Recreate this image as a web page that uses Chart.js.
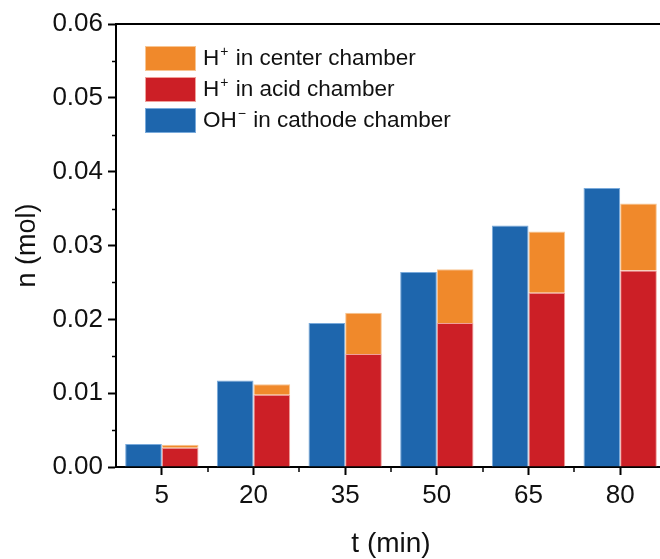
<!DOCTYPE html>
<html>
<head>
<meta charset="utf-8">
<script src="https://cdn.jsdelivr.net/npm/chart.js@4.4.0/dist/chart.umd.min.js"></script>
<style>
html, body { margin: 0; padding: 0; background: #fff; overflow: hidden; }
#wrap { width: 666px; height: 559px; }
</style>
</head>
<body>
<div id="wrap"><canvas id="grafico"></canvas></div>
<script>
// tempo (min) e quantidade (mol)
var tempos = ['5', '20', '35', '50', '65', '80'];
var ohCatodo = [0.0031, 0.0117, 0.0195, 0.0264, 0.0327, 0.0378];
var hAcido = [0.0026, 0.0098, 0.0153, 0.0195, 0.0236, 0.0266];
var hCentro = [0.0004, 0.0014, 0.0056, 0.0073, 0.0083, 0.0091];

var fonte = "'Liberation Sans', Arial, sans-serif";

// escreve texto com ⁺ / ⁻ como sobrescrito menor
function textoSobrescrito(c, txt, x, y, tam) {
    var buf = '';
    function solta() {
        if (!buf) return;
        c.font = tam + 'px ' + fonte;
        c.fillText(buf, x, y);
        x += c.measureText(buf).width;
        buf = '';
    }
    for (var i = 0; i < txt.length; i++) {
        var ch = txt[i];
        if (ch === '\u207A' || ch === '\u207B') {
            solta();
            var s = ch === '\u207A' ? '+' : '\u2212';
            c.font = Math.round(tam * 0.62) + 'px ' + fonte;
            c.fillText(s, x + 1, y - tam * 0.3);
            x += c.measureText(s).width + 2;
        } else {
            buf += ch;
        }
    }
    solta();
}

var extras = {
    id: 'extras',
    afterDraw: function(chart) {
        var c = chart.ctx, a = chart.chartArea;
        var sx = chart.scales.x, sy = chart.scales.y;
        c.save();
        c.strokeStyle = '#000';
        c.lineWidth = 2;
        // linha de cima
        c.beginPath();
        c.moveTo(a.left - 1, a.top);
        c.lineTo(a.right, a.top);
        c.stroke();
        // ticks menores
        c.lineWidth = 1.5;
        for (var v = 0.005; v < 0.06; v += 0.01) {
            var py = Math.round(sy.getPixelForValue(v)) + 0.5;
            c.beginPath(); c.moveTo(a.left - 4, py); c.lineTo(a.left + 1, py); c.stroke();
        }
        for (var i = 0; i < tempos.length - 1; i++) {
            var px = Math.round((sx.getPixelForValue(i) + sx.getPixelForValue(i + 1)) / 2);
            c.beginPath(); c.moveTo(px, a.bottom); c.lineTo(px, a.bottom + 5); c.stroke();
        }
        // legenda
        var ds = chart.data.datasets.slice().reverse();
        c.textBaseline = 'middle';
        c.textAlign = 'left';
        for (var k = 0; k < ds.length; k++) {
            var by = 46 + k * 31;
            c.fillStyle = ds[k].borderColor;
            c.fillRect(145, by, 51, 25);
            c.fillStyle = ds[k].backgroundColor;
            c.fillRect(146, by + 1, 49, 23);
            c.fillStyle = '#111';
            textoSobrescrito(c, ds[k].label, 203, by + 13, 22.5);
        }
        c.restore();
    }
};

var ctx = document.getElementById('grafico').getContext('2d');
var chart = new Chart(ctx, {
    type: 'bar',
    data: {
        labels: tempos,
        datasets: [{
            label: 'OH\u207B in cathode chamber',
            data: ohCatodo,
            stack: 'oh',
            backgroundColor: '#1e66ad',
            borderColor: '#79aadb',
            borderWidth: 1
        }, {
            label: 'H\u207A in acid chamber',
            data: hAcido,
            stack: 'h',
            backgroundColor: '#cc1f26',
            borderColor: '#f0a09a',
            borderWidth: 1
        }, {
            label: 'H\u207A in center chamber',
            data: hCentro,
            stack: 'h',
            backgroundColor: '#f0892b',
            borderColor: '#f8c592',
            borderWidth: 1
        }]
    },
    options: {
        responsive: true,
        maintainAspectRatio: false,
        animation: false,
        layout: { padding: { top: 24, right: 0, left: 0, bottom: 0 } },
        datasets: { bar: { categoryPercentage: 0.8, barPercentage: 1.0 } },
        plugins: { legend: { display: false }, tooltip: { enabled: false } },
        scales: {
            x: {
                stacked: true,
                offset: true,
                afterFit: function(s) { s.height = 92; },
                grid: { offset: false, drawOnChartArea: false, drawTicks: true, tickLength: 8, tickWidth: 2, tickColor: '#000' },
                border: { color: '#000', width: 2 },
                ticks: { color: '#111', padding: 5, font: { family: fonte, size: 26 } },
                title: { display: true, text: 't (min)', color: '#111', padding: { top: 0, bottom: 1 }, font: { family: fonte, size: 28, lineHeight: 1 } }
            },
            y: {
                stacked: true,
                min: 0,
                max: 0.06,
                afterFit: function(s) { s.width = 116; },
                grid: { drawOnChartArea: false, drawTicks: true, tickLength: 8, tickWidth: 2, tickColor: '#000' },
                border: { color: '#000', width: 2 },
                ticks: {
                    stepSize: 0.01, color: '#111', padding: 5,
                    font: { family: fonte, size: 26 },
                    callback: function(v) { return v.toFixed(2); }
                },
                title: { display: true, text: 'n (mol)', color: '#111', padding: { top: 14, bottom: 0 }, font: { family: fonte, size: 27, lineHeight: 1 } }
            }
        }
    },
    plugins: [extras]
});
</script>
</body>
</html>
